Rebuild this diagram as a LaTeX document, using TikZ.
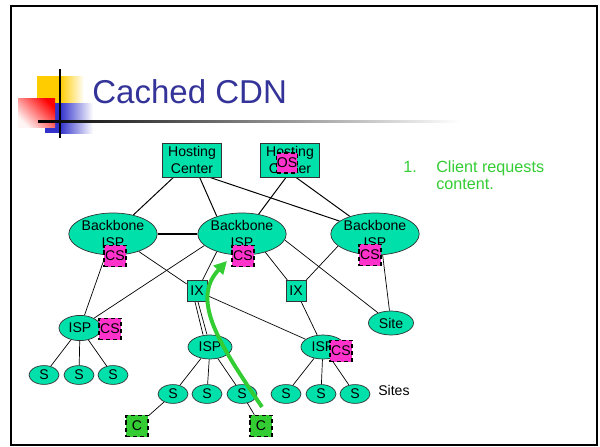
\documentclass[tikz,border=0pt]{standalone}
\usepackage{fontspec}
\setmainfont{Liberation Sans}
\usetikzlibrary{arrows.meta,shapes.geometric,backgrounds}
\definecolor{netgreen}{RGB}{0,224,170}
\definecolor{cachepink}{RGB}{255,51,204}
\definecolor{clientgreen}{RGB}{51,204,51}
\definecolor{titleblue}{RGB}{51,51,153}
\definecolor{logoyellow}{RGB}{255,204,0}
\definecolor{logoblue}{RGB}{51,51,204}

\begin{document}
\begin{tikzpicture}[x=0.025cm,y=0.025cm,
  lbl/.style={font=\fontsize{10}{12}\selectfont},
  cloud/.style={ellipse,draw=black!80,line width=0.5pt,fill=netgreen,inner sep=0pt,lbl},
  box/.style={rectangle,draw=black!80,line width=0.6pt,fill=netgreen,inner sep=0pt,lbl},
  cache/.style={rectangle,draw=black,line width=0.9pt,dash pattern=on 3pt off 2pt,
    fill=cachepink,inner sep=0pt,minimum width=0.55cm,minimum height=0.53cm,lbl},
  client/.style={cache,fill=clientgreen},
  link/.style={draw=black,line width=0.5pt}]
  \useasboundingbox (0,0) rectangle (600,-447);
  \draw[line width=1.6pt] (11,-6) rectangle (597,-445);

  \fill[logoyellow] (37,-76) rectangle (60,-103);
  \shade[left color=logoyellow,right color=white] (60,-76) rectangle (84,-103);
  \fill[logoblue] (45,-103) rectangle (60,-133);
  \shade[left color=logoblue,right color=white] (60,-103) rectangle (93,-133);
  \shade[top color=red,bottom color=red!4!white,shading angle=-45]
    (18,-98) rectangle (55,-127);
  \draw[line width=1.5pt] (60,-69) -- (60,-138);
  \shade[left color=black,right color=white] (38,-120) rectangle (460,-122);
  \node[anchor=base west,inner sep=0pt,text=titleblue,font=\fontsize{23.5}{28}\selectfont]
    (title) at (92,-103) {Cached CDN};

  \node[box,align=center,minimum width=1.475cm,minimum height=0.85cm,font=\fontsize{10}{12.7}\selectfont]
    (hc1) at (192,-160) {Hosting\\Center};
  \node[box,align=center,minimum width=1.475cm,minimum height=0.85cm,font=\fontsize{10}{12.7}\selectfont]
    (hc2) at (290,-160) {Hosting\\Center};
  \node[cache,minimum width=0.5cm,minimum height=0.5cm] (os) at (287,-163) {OS};

  \node[cloud,align=center,minimum width=2.2cm,minimum height=1.05cm] (bbl) at (113,-234) {Backbone\\ISP};
  \node[cloud,align=center,minimum width=2.2cm,minimum height=1.05cm] (bbm) at (242,-234) {Backbone\\ISP};
  \node[cloud,align=center,minimum width=2.2cm,minimum height=1.05cm] (bbr) at (375,-234) {Backbone\\ISP};
  \node[cache] (csl) at (115,-256) {CS};
  \node[cache] (csm) at (243,-256) {CS};
  \node[cache] (csr) at (370,-255) {CS};

  \node[box,minimum width=0.5cm,minimum height=0.525cm] (ixl) at (197,-291) {IX};
  \node[box,minimum width=0.5cm,minimum height=0.525cm] (ixr) at (296,-291) {IX};
  \node[cloud,minimum width=1.125cm,minimum height=0.6cm] (site) at (391,-323) {Site};

  \node[cloud,minimum width=1.05cm,minimum height=0.63cm] (ispl) at (80,-328) {ISP};
  \node[cache] (cspl) at (110,-329) {CS};
  \node[cloud,minimum width=1.1cm,minimum height=0.6cm] (ispm) at (210,-347) {ISP};
  \node[cloud,minimum width=1.1cm,minimum height=0.6cm] (ispr) at (323,-347) {ISP};
  \node[cache] (cspr) at (341,-351) {CS};

  \foreach \n/\x/\y in {s1/44/375,s2/79/375,s3/113/375,s4/173/394,s5/207/394,s6/242/394,
                        s7/286/394,s8/321/394,s9/355/394}
    \node[cloud,minimum width=0.75cm,minimum height=0.47cm] (\n) at (\x,-\y) {S};
  \node[anchor=west,inner sep=0pt,lbl] (sitesl) at (378,-390) {Sites};

  \node[client] (cl) at (137,-426) {C};
  \node[client] (cr) at (261,-426) {C};

  \begin{scope}[on background layer]
    \draw[link,line width=0.7pt] (hc1) -- (bbl);
    \draw[link,line width=0.7pt] (hc1) -- (bbm.145);
    \draw[link,line width=0.7pt] ([xshift=0.45cm]hc1.south) -- (bbr.160);
    \draw[link,line width=0.7pt] ([xshift=-0.1cm]hc2.south) -- (bbm.50);
    \draw[link,line width=0.7pt] ([xshift=0.15cm]hc2.south) -- (bbr.145);
    \draw[line width=1.5pt] (bbl) -- (bbm);
    \draw[link] (bbl) -- (ixl);
    \draw[link] (bbl) -- (ispl);
    \draw[link] (bbm.197) -- (ispl.35);
    \draw[link] (bbm.215) -- (ixl);
    \draw[link] (bbm.-38) -- (ixr);
    \draw[link] (bbm.-8) -- (site);
    \draw[link] (bbr.198) -- (ixr);
    \draw[link] (bbr.-70) -- (site);
    \draw[link] ([xshift=-0.05cm]ixl.south) -- ([xshift=-0.175cm]ispm.north);
    \draw[link] ([xshift=0.025cm]ixl.south) -- ([xshift=-0.075cm]ispm.north);
    \draw[link] (ixl) -- (ispr);
    \draw[link] (ixr) -- (ispr);
    \foreach \s in {s1,s2,s3} \draw[link] (ispl) -- (\s);
    \foreach \s in {s4,s5,s6} \draw[link] (ispm) -- (\s);
    \foreach \s in {s7,s8,s9} \draw[link] (ispr) -- (\s);
    \draw[link] (s4) -- (cl);
    \draw[link] (s6) -- (cr);
  \end{scope}

  \coordinate (reqstart) at (262,-407);
  \coordinate (reqend) at (227,-261);
  \draw[clientgreen,line width=2.8pt,-{Triangle[length=0.32cm,width=0.32cm]}]
    (reqstart) .. controls (220,-345) and (190,-300) .. (reqend);

  \node[anchor=base west,inner sep=0pt,text=clientgreen,font=\fontsize{11.5}{14}\selectfont]
    (step1) at (403,-172) {1.};
  \node[anchor=base west,inner sep=0pt,text=clientgreen,font=\fontsize{11.5}{14}\selectfont]
    (req1) at (436,-172) {Client requests};
  \node[anchor=base west,inner sep=0pt,text=clientgreen,font=\fontsize{11.5}{14}\selectfont]
    (req2) at (436,-189) {content.};
\end{tikzpicture}
\end{document}
